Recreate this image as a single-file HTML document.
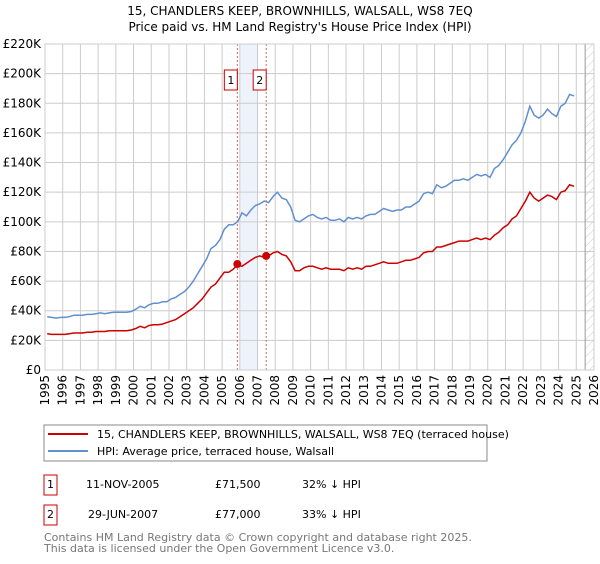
<!DOCTYPE html>
<html><head><meta charset="utf-8"><style>
body{margin:0;background:#fff;font-family:"DejaVu Sans","Liberation Sans",sans-serif;}
svg text{font-family:"DejaVu Sans","Liberation Sans",sans-serif;}
</style></head><body>
<svg id="c" width="600" height="560" xmlns="http://www.w3.org/2000/svg">
<defs><pattern id="hatch" width="6" height="6" patternUnits="userSpaceOnUse" patternTransform="rotate(45)"><line x1="0" y1="0" x2="0" y2="6" stroke="#ccc" stroke-width="1"/></pattern></defs>
<text x="300" y="15" text-anchor="middle" font-size="12">15, CHANDLERS KEEP, BROWNHILLS, WALSALL, WS8 7EQ</text>
<text x="300" y="31" text-anchor="middle" font-size="12">Price paid vs. HM Land Registry's House Price Index (HPI)</text>
<g id="plot"></g>
<rect x="44" y="425" width="443" height="36" fill="none" stroke="#888"/>
<line x1="48" y1="434" x2="88" y2="434" stroke="#cc0000" stroke-width="2"/>
<text x="97" y="438" font-size="11">15, CHANDLERS KEEP, BROWNHILLS, WALSALL, WS8 7EQ (terraced house)</text>
<line x1="48" y1="451" x2="88" y2="451" stroke="#6090d0" stroke-width="2"/>
<text x="97" y="455" font-size="11">HPI: Average price, terraced house, Walsall</text>
<g>
<rect x="44" y="475" width="13" height="20" fill="#fff" stroke="#cc0000"/>
<text x="50.5" y="488" font-size="11" text-anchor="middle">1</text>
<text x="86" y="488" font-size="11">11-NOV-2005</text>
<text x="215" y="488" font-size="11">£71,500</text>
<text x="302" y="488" font-size="11">32% ↓ HPI</text></g>
<g>
<rect x="44" y="505" width="13" height="20" fill="#fff" stroke="#cc0000"/>
<text x="50.5" y="518" font-size="11" text-anchor="middle">2</text>
<text x="88" y="518" font-size="11">29-JUN-2007</text>
<text x="215" y="518" font-size="11">£77,000</text>
<text x="302" y="518" font-size="11">33% ↓ HPI</text></g>
<text x="44" y="541" font-size="11" fill="#777">Contains HM Land Registry data © Crown copyright and database right 2025.</text>
<text x="44" y="552" font-size="11" fill="#777">This data is licensed under the Open Government Licence v3.0.</text>
</svg>
<script>
const years=[1995,1996,1997,1998,1999,2000,2001,2002,2003,2004,2005,2006,2007,2008,2009,2010,2011,2012,2013,2014,2015,2016,2017,2018,2019,2020,2021,2022,2023,2024,2025,2026];
const yTicks=[0,20000,40000,60000,80000,100000,120000,140000,160000,180000,200000,220000];
const yTickLabels=["£0","£20K","£40K","£60K","£80K","£100K","£120K","£140K","£160K","£180K","£200K","£220K"];
const hpiStart=1995;
const hpiK=[36,35.5,35,35.5,35.5,36,37,37,37,37.5,37.5,38,38.5,38,38.5,39,39,39,39,39.5,41,43,42,44,45,45,46,46,48,49,51,53,56,60,65,70,75,82,84,88,95,98,98,100,106,104,108,111,112,114,113,117,120,116,115,110,101,100,102,104,105,103,102,103,101,101,102,100,103,102,103,102,104,105,105,107,109,108,107,108,108,110,110,112,114,119,120,119,125,123,124,126,128,128,129,128,130,132,131,132,130,136,138,142,147,152,155,160,168,178,172,170,172,176,173,171,178,180,186,185];
const priceK=[24.5,24,24,24,24,24.5,25,25,25,25.5,25.5,26,26,26,26.5,26.5,26.5,26.5,26.5,27,28,29.5,28.5,30,30.5,30.5,31,32,33,34,36,38,40,42,45,48,52,56,58,62,66,66,68,71,70,72,74,76,77,76,77,79,80,78,77,73,67,67,69,70,70,69,68,69,68,68,68,67,69,68,69,68,70,70,71,72,73,72,72,72,73,74,74,75,76,79,80,80,83,83,84,85,86,87,87,87,88,89,88,89,88,91,93,96,98,102,104,109,114,120,116,114,116,118,117,115,120,121,125,124];
const saleDates=[2005.86,2007.49];
const salePrices=[71500,77000];
const saleLabels=["1","2"];
const X0=45,X1=594,Y0=370,Y1=44;
const xs=t=>X0+(t-1995)/(2026-1995)*(X1-X0);
const ys=v=>Y0-v/220000*(Y0-Y1);
const NS="http://www.w3.org/2000/svg";
const g=document.getElementById('plot');
function mk(tag,attrs){const e=document.createElementNS(NS,tag);for(const k in attrs)e.setAttribute(k,attrs[k]);g.appendChild(e);return e;}
let sh=mk('rect',{x:xs(2006.0),y:Y1,width:xs(2007.0)-xs(2006.0),height:Y0-Y1,fill:'#eef2fb'});


let ht=mk('rect',{x:xs(2025.5),y:Y1,width:X1-xs(2025.5),height:Y0-Y1,fill:'url(#hatch)'});


yTicks.forEach((v,i)=>{
 let l=mk('line',{x1:X0,x2:X1,y1:ys(v),y2:ys(v),stroke:'#ccc'});
 
 
 let t=mk('text',{x:X0-4,y:ys(v)+4,'text-anchor':'end','font-size':'12'});t.textContent=yTickLabels[i];
 
 
});
years.forEach(y=>{
 let l=mk('line',{x1:xs(y),x2:xs(y),y1:Y1,y2:Y0,stroke:'#ccc'});
 
 
 let t=mk('text',{x:0,y:0,'text-anchor':'end','font-size':'12',transform:`translate(${xs(y)+4},${Y0+5}) rotate(-90)`});t.textContent=y;
 
 
});
let ln=mk('line',{x1:xs(2025.5),x2:xs(2025.5),y1:Y1,y2:Y0,stroke:'#999'});


function path(arr,color,name){
 const d=arr.map((v,i)=>(i?'L':'M')+xs(hpiStart+i/4+0.125).toFixed(1)+','+ys(v*1000).toFixed(1)).join('');
 let p=mk('path',{d:d,fill:'none',stroke:color,'stroke-width':'1.5'});
 
 
}
path(hpiK,'#6090d0','hpi-line');
path(priceK,'#cc0000','price-line');
saleDates.forEach((d,i)=>{
 let l=mk('line',{x1:xs(d),x2:xs(d),y1:Y1,y2:Y0,stroke:'#e06060','stroke-dasharray':'2,2'});
 
 
 let b=mk('rect',{x:xs(d)-13,y:70,width:13,height:20,fill:'#fff',stroke:'#cc0000'});
 
 
 let t=mk('text',{x:xs(d)-6.5,y:84,'text-anchor':'middle','font-size':'11'});t.textContent=saleLabels[i];
 
 
 let c=mk('circle',{cx:xs(d),cy:ys(salePrices[i]),r:4,fill:'#cc0000'});
 
 
});
let ax=mk('rect',{x:X0,y:Y1,width:X1-X0,height:Y0-Y1,fill:'none',stroke:'#ccc'});


</script>
</body></html>
